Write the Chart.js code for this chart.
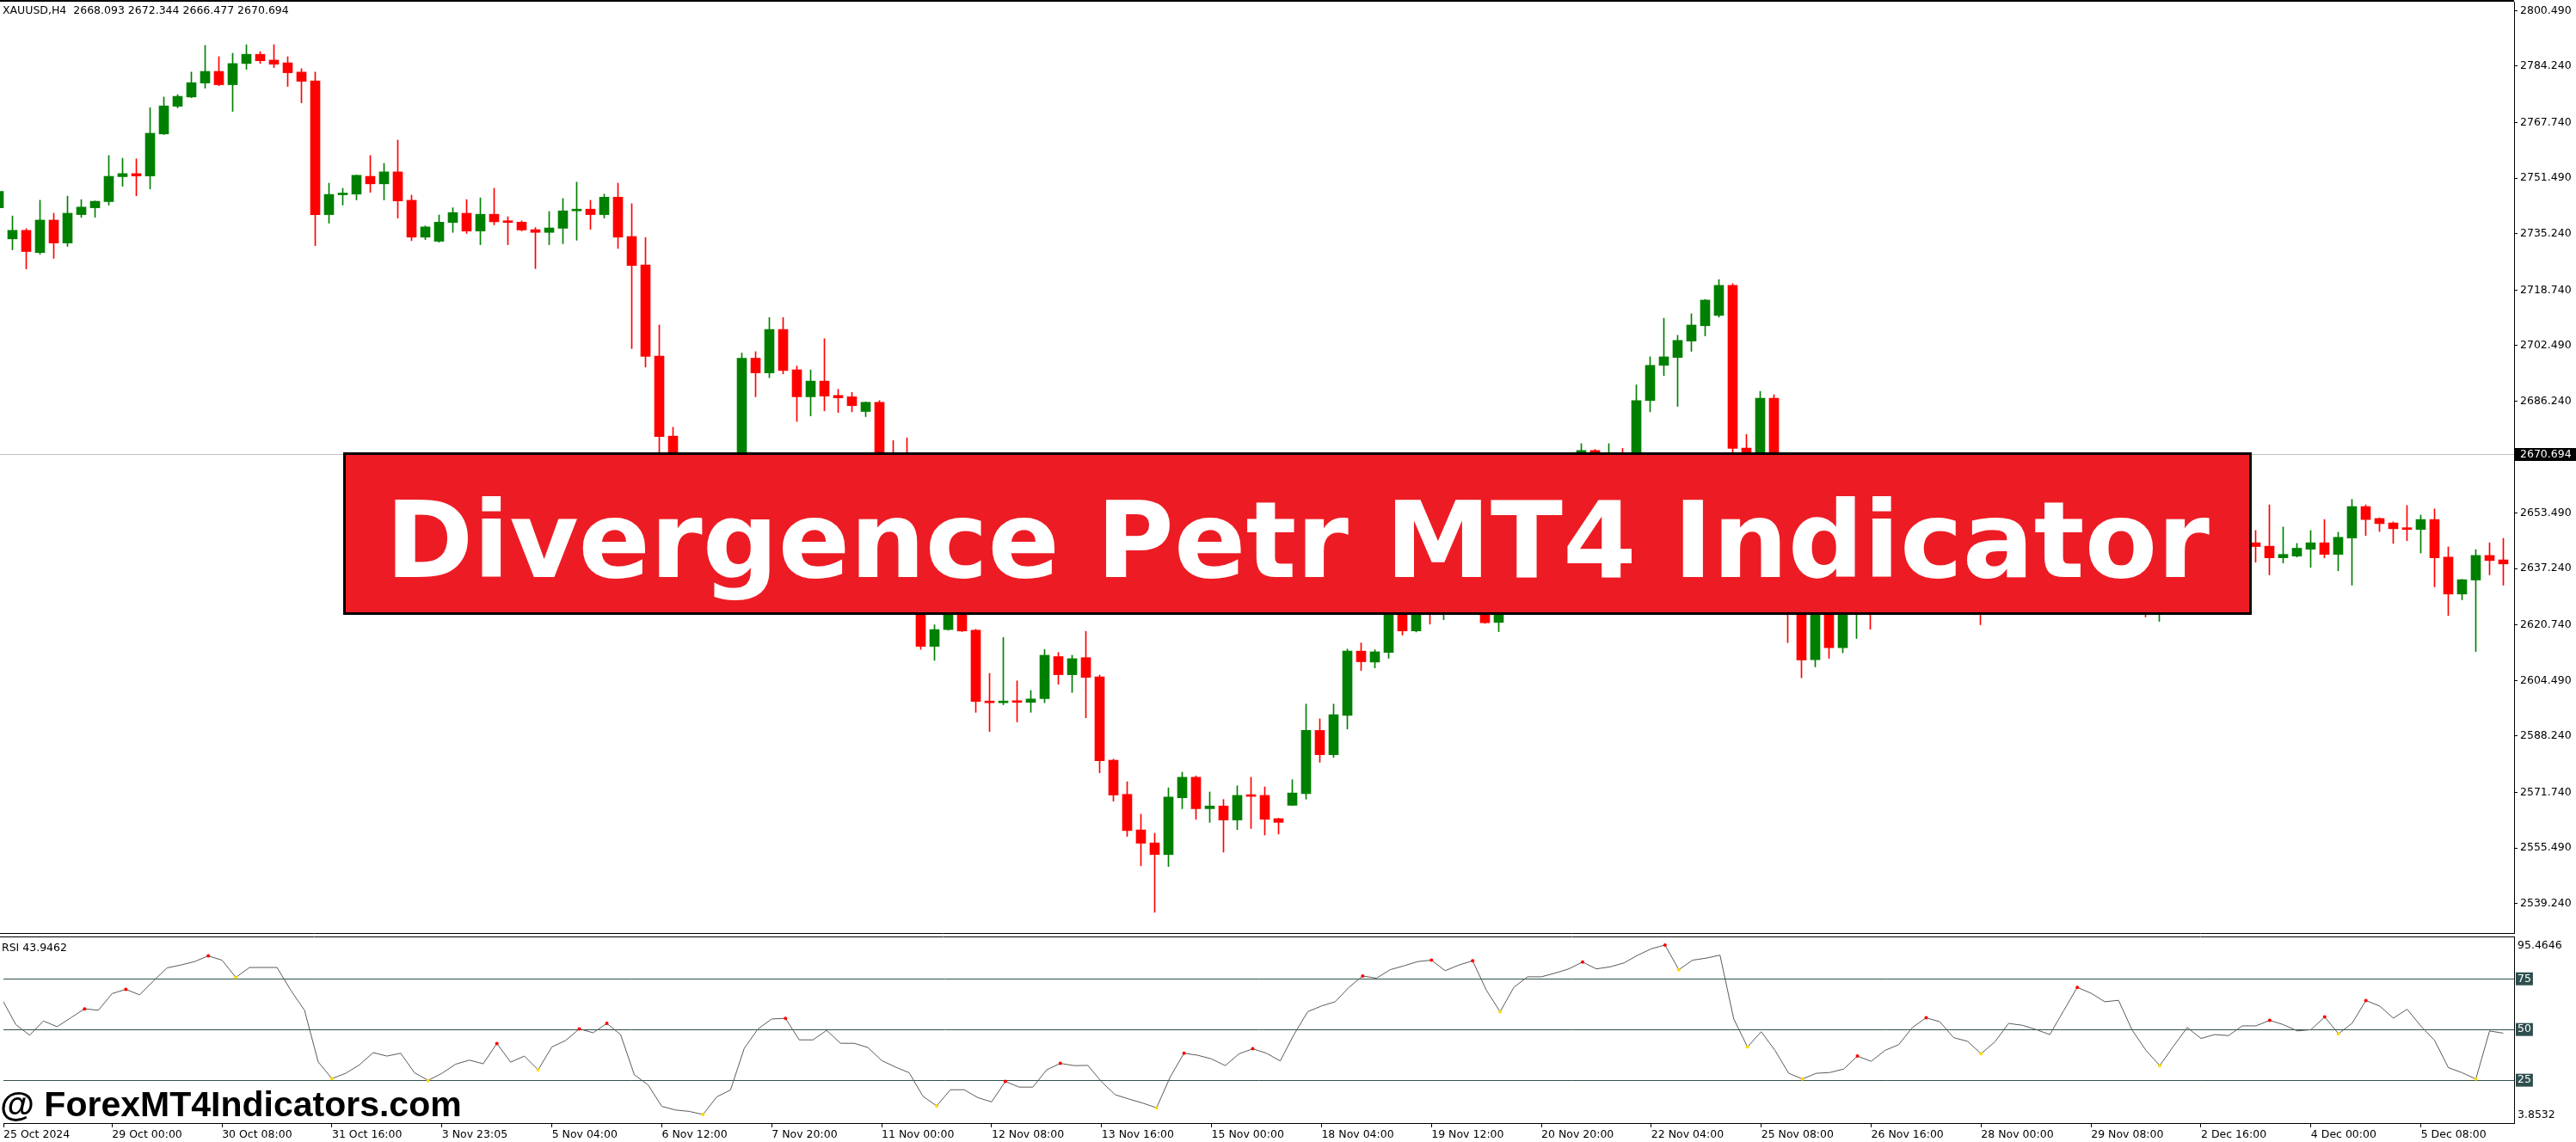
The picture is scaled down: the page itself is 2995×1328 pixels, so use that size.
<!DOCTYPE html>
<html>
<head>
<meta charset="utf-8">
<title>XAUUSD H4 - Divergence Petr</title>
<script src="https://cdn.jsdelivr.net/npm/chart.js@4.4.1/dist/chart.umd.min.js"></script>
<style>
  body { margin: 0; width: 2995px; height: 1328px; overflow: hidden; background: #fff; position: relative; }
  #main { position: absolute; left: 0; top: 0; }
  #rsi { position: absolute; left: 0; top: 1086px; }
  .head { position: absolute; left: 3px; top: 4px; font: 12.5px 'DejaVu Sans'; line-height: 15px; color: #000; white-space: pre; }
  .rsiname { position: absolute; left: 2px; top: 1094px; font: 12.5px 'DejaVu Sans'; line-height: 15px; color: #000; white-space: pre; }
  .banner { position: absolute; left: 399px; top: 526px; width: 2219px; height: 189px; box-sizing: border-box;
            background: #ED1C24; border: 3px solid #000; display: flex; align-items: center; justify-content: center; }
  .banner span { position: relative; top: 8px; color: #fff; font: bold 123px 'DejaVu Sans'; white-space: nowrap; }
  .mark { position: absolute; left: 0; top: 1264px; font: bold 41px 'Liberation Sans'; line-height: 41px; color: #000; white-space: nowrap; }
</style>
</head>
<body>
<canvas id="main" width="2995" height="1086"></canvas>
<canvas id="rsi" width="2995" height="242"></canvas>
<div class="head" id="head"></div>
<div class="rsiname" id="rsiname"></div>
<div class="banner"><span>Divergence Petr MT4 Indicator</span></div>
<div class="mark">@ ForexMT4Indicators.com</div>
<script>
// XAUUSD H4 bars, oldest first
const opens = [
  2742.8, 2733.7, 2736.2, 2729.7, 2739.2, 2732.5, 2740.8, 2742.8, 2744.6, 2751.9,
  2752.8, 2752.1, 2764.4, 2772.5, 2775.2, 2779.3, 2782.7, 2778.8, 2785.0, 2787.7,
  2786.0, 2785.2, 2782.5, 2779.9, 2740.8, 2746.6, 2746.8, 2752.0, 2749.8, 2753.3,
  2745.0, 2734.2, 2733.0, 2738.5, 2741.2, 2736.0, 2740.9, 2739.0, 2738.6, 2736.4,
  2735.6, 2736.8, 2741.9, 2742.4, 2740.8, 2745.9, 2734.4, 2726.1, 2699.4, 2676.0,
  2669.5, 2665.0, 2661.0, 2665.0, 2667.0, 2698.8, 2694.5, 2707.2, 2695.4, 2687.5,
  2692.1, 2687.9, 2687.5, 2683.2, 2685.9, 2670.0, 2662.0, 2655.0, 2614.5, 2619.4,
  2626.0, 2619.2, 2598.4, 2598.0, 2598.5, 2598.1, 2599.2, 2611.5, 2606.2, 2611.2,
  2605.6, 2581.2, 2571.2, 2560.8, 2557.0, 2553.6, 2570.2, 2576.2, 2567.0, 2567.8,
  2563.7, 2570.9, 2570.9, 2564.1, 2568.0, 2571.4, 2589.9, 2582.8, 2594.3, 2613.1,
  2609.9, 2612.7, 2629.0, 2619.0, 2636.0, 2628.0, 2632.0, 2640.0, 2645.0, 2621.5,
  2628.0, 2640.0, 2648.0, 2648.5, 2652.0, 2657.0, 2671.8, 2665.0, 2668.0, 2667.0,
  2686.4, 2696.7, 2699.0, 2703.8, 2708.3, 2711.3, 2720.1, 2672.5, 2656.0, 2687.1,
  2662.0, 2626.0, 2610.6, 2628.0, 2614.1, 2627.0, 2636.0, 2632.0, 2640.0, 2644.0,
  2652.0, 2658.0, 2656.0, 2646.0, 2643.0, 2634.0, 2641.0, 2651.0, 2650.0, 2648.0,
  2645.0, 2657.0, 2666.0, 2663.0, 2659.0, 2660.0, 2645.0, 2636.0, 2638.0, 2645.0,
  2653.0, 2648.0, 2650.0, 2649.0, 2644.8, 2643.8, 2640.4, 2640.9, 2642.9, 2644.8,
  2641.4, 2646.2, 2655.4, 2651.9, 2650.6, 2649.1, 2648.7, 2651.6, 2640.6, 2629.8,
  2633.9, 2641.1, 2639.8
];
const highs = [
  2748.5, 2740.4, 2736.7, 2745.0, 2741.2, 2746.2, 2745.2, 2744.8, 2758.1, 2757.3,
  2757.1, 2772.1, 2775.2, 2775.9, 2782.5, 2790.3, 2787.0, 2788.0, 2790.5, 2788.5,
  2790.5, 2787.0, 2783.5, 2782.5, 2750.0, 2748.5, 2752.4, 2758.1, 2755.8, 2762.6,
  2746.5, 2737.5, 2740.7, 2742.8, 2745.2, 2745.7, 2748.5, 2740.2, 2739.0, 2737.0,
  2741.7, 2745.5, 2750.3, 2745.0, 2746.8, 2750.0, 2744.0, 2734.1, 2708.5, 2678.6,
  2669.8, 2667.0, 2667.0, 2669.0, 2700.3, 2700.7, 2710.7, 2710.7, 2696.5, 2695.4,
  2704.5, 2689.7, 2688.8, 2686.0, 2686.4, 2674.7, 2675.5, 2657.0, 2620.8, 2628.0,
  2629.0, 2619.5, 2606.6, 2617.1, 2604.4, 2601.6, 2613.6, 2612.7, 2611.9, 2618.9,
  2606.1, 2581.5, 2574.9, 2565.4, 2559.8, 2573.1, 2577.7, 2576.6, 2571.9, 2569.7,
  2573.7, 2576.2, 2573.4, 2564.2, 2575.5, 2597.6, 2593.3, 2597.6, 2613.7, 2615.5,
  2613.5, 2633.0, 2634.0, 2640.0, 2642.0, 2638.0, 2644.0, 2648.0, 2647.0, 2632.0,
  2643.0, 2651.0, 2652.0, 2655.0, 2660.0, 2673.8, 2672.1, 2673.8, 2672.4, 2691.0,
  2699.2, 2710.5, 2705.5, 2711.8, 2716.0, 2721.8, 2720.6, 2676.5, 2689.1, 2688.1,
  2664.0, 2630.0, 2632.0, 2630.0, 2632.0, 2640.0, 2640.0, 2645.0, 2648.0, 2656.0,
  2662.0, 2661.0, 2659.0, 2650.0, 2646.0, 2645.0, 2655.0, 2655.0, 2653.0, 2651.0,
  2660.0, 2669.0, 2669.0, 2667.0, 2664.0, 2663.0, 2648.0, 2642.0, 2649.0, 2657.0,
  2656.0, 2654.0, 2653.0, 2652.0, 2648.4, 2655.9, 2649.4, 2644.6, 2648.4, 2651.6,
  2647.9, 2657.5, 2655.9, 2652.1, 2650.9, 2655.7, 2652.9, 2654.7, 2643.6, 2634.1,
  2642.8, 2644.8, 2646.1
];
const lows = [
  2741.5, 2730.5, 2724.9, 2729.2, 2728.0, 2731.5, 2740.0, 2740.0, 2743.6, 2749.1,
  2746.3, 2748.3, 2764.2, 2772.0, 2775.0, 2777.8, 2778.5, 2771.0, 2783.3, 2785.0,
  2783.8, 2778.3, 2773.5, 2731.7, 2738.3, 2743.6, 2745.1, 2747.3, 2745.1, 2739.8,
  2733.2, 2733.5, 2732.7, 2735.6, 2735.3, 2732.0, 2737.8, 2732.0, 2736.0, 2725.0,
  2732.0, 2732.3, 2733.3, 2736.5, 2739.8, 2730.9, 2701.6, 2696.2, 2671.0, 2666.0,
  2660.0, 2656.0, 2658.0, 2662.0, 2664.0, 2687.5, 2693.1, 2694.2, 2680.3, 2681.9,
  2683.4, 2682.9, 2683.1, 2681.7, 2668.0, 2658.0, 2652.0, 2613.6, 2610.4, 2619.2,
  2618.8, 2595.2, 2589.6, 2597.4, 2592.4, 2595.2, 2598.0, 2603.4, 2601.0, 2593.6,
  2577.5, 2569.2, 2558.9, 2550.3, 2536.7, 2550.1, 2567.0, 2563.9, 2563.0, 2554.3,
  2560.9, 2561.2, 2559.3, 2559.6, 2567.9, 2569.8, 2580.6, 2582.0, 2590.3, 2607.4,
  2608.2, 2611.0, 2617.8, 2618.7, 2621.0, 2622.3, 2630.0, 2637.0, 2621.2, 2618.8,
  2626.0, 2637.0, 2644.0, 2646.0, 2650.0, 2655.0, 2662.0, 2661.0, 2663.0, 2665.0,
  2683.1, 2693.7, 2684.7, 2700.8, 2705.3, 2710.8, 2669.0, 2650.0, 2653.0, 2658.0,
  2615.6, 2605.3, 2608.5, 2611.0, 2612.6, 2616.8, 2619.5, 2628.0, 2637.0, 2641.0,
  2649.0, 2652.0, 2642.0, 2638.0, 2620.8, 2630.0, 2638.0, 2646.0, 2644.0, 2641.0,
  2642.0, 2654.0, 2659.0, 2655.0, 2655.0, 2641.0, 2623.1, 2621.8, 2634.0, 2642.0,
  2644.0, 2645.0, 2646.0, 2644.0, 2639.1, 2635.4, 2638.9, 2640.6, 2637.6, 2640.4,
  2636.6, 2632.4, 2646.9, 2648.1, 2644.6, 2645.4, 2641.8, 2631.9, 2623.5, 2628.1,
  2613.0, 2635.4, 2632.4
];
const closes = [
  2747.6, 2736.2, 2730.0, 2739.2, 2732.5, 2741.2, 2743.0, 2744.7, 2752.0, 2752.8,
  2752.1, 2764.6, 2772.6, 2775.4, 2779.4, 2782.7, 2778.8, 2785.0, 2787.7, 2785.8,
  2784.8, 2782.3, 2779.8, 2740.8, 2746.7, 2747.0, 2752.3, 2749.8, 2753.3, 2744.8,
  2734.2, 2737.2, 2738.6, 2741.4, 2736.0, 2740.9, 2738.7, 2738.5, 2736.3, 2735.6,
  2736.9, 2741.9, 2742.3, 2740.8, 2745.9, 2734.2, 2725.9, 2699.3, 2675.9, 2669.5,
  2665.0, 2661.0, 2665.0, 2667.0, 2698.8, 2694.5, 2707.2, 2695.2, 2687.5, 2692.1,
  2687.7, 2687.2, 2684.9, 2685.9, 2670.0, 2662.0, 2655.0, 2614.5, 2619.4, 2626.0,
  2619.0, 2598.4, 2598.0, 2598.4, 2598.1, 2599.1, 2611.9, 2606.2, 2610.9, 2605.4,
  2581.0, 2571.0, 2560.6, 2556.9, 2553.6, 2570.4, 2576.2, 2567.0, 2567.8, 2563.7,
  2570.9, 2570.6, 2563.9, 2563.0, 2571.6, 2589.9, 2582.8, 2594.5, 2613.1, 2610.0,
  2612.9, 2630.0, 2619.0, 2636.0, 2628.0, 2632.0, 2640.0, 2645.0, 2621.4, 2628.0,
  2640.0, 2648.0, 2648.5, 2652.0, 2657.0, 2671.8, 2665.0, 2668.0, 2667.0, 2686.4,
  2696.7, 2699.2, 2704.0, 2708.5, 2715.8, 2720.1, 2672.4, 2655.0, 2687.1, 2662.0,
  2626.0, 2610.5, 2628.0, 2614.1, 2627.0, 2636.0, 2632.0, 2640.0, 2644.0, 2652.0,
  2658.0, 2656.0, 2646.0, 2643.0, 2634.0, 2641.0, 2651.0, 2650.0, 2648.0, 2645.0,
  2657.0, 2666.0, 2663.0, 2659.0, 2660.0, 2645.0, 2636.0, 2638.0, 2645.0, 2653.0,
  2648.0, 2650.0, 2649.0, 2645.5, 2643.7, 2640.4, 2641.4, 2643.2, 2644.8, 2641.4,
  2646.4, 2655.4, 2651.6, 2650.4, 2648.9, 2648.7, 2651.6, 2640.4, 2629.8, 2634.0,
  2641.1, 2639.6, 2638.6
];

// RSI sub window, one value per bar
const rsiValues = [
  64.8, 52.4, 47.2, 54.2, 51.4, 55.8, 60.2, 59.5, 67.7, 69.8,
  67.1, 73.9, 80.4, 81.8, 83.5, 86.3, 84.2, 75.7, 80.6, 80.6,
  80.6, 69.4, 59.5, 34.0, 25.8, 28.4, 32.6, 38.6, 36.9, 38.3,
  28.7, 24.9, 28.4, 32.9, 34.9, 33.1, 43.1, 33.9, 36.9, 30.1,
  41.4, 44.6, 50.3, 48.4, 53.0, 47.5, 27.7, 22.7, 12.1, 10.3,
  9.6, 8.1, 16.8, 20.2, 40.7, 50.3, 55.2, 55.5, 44.9, 44.9,
  49.6, 43.2, 43.2, 41.1, 34.7, 31.5, 28.7, 17.1, 12.3, 20.3,
  20.3, 16.4, 14.3, 24.4, 21.6, 21.6, 30.1, 33.3, 32.2, 32.3,
  24.2, 17.8, 15.7, 13.7, 11.4, 26.7, 38.3, 37.3, 35.5, 32.2,
  38.0, 40.5, 38.3, 34.5, 47.5, 58.8, 61.6, 63.7, 70.8, 76.4,
  75.3, 79.5, 81.4, 83.5, 84.2, 79.0, 81.8, 83.9, 69.4, 58.8,
  70.8, 76.0, 76.0, 77.8, 79.9, 83.3, 79.9, 80.9, 82.8, 86.6,
  89.8, 91.7, 79.5, 84.2, 85.2, 86.7, 55.2, 41.4, 48.9, 39.7,
  28.4, 25.6, 28.4, 28.8, 30.5, 36.9, 34.3, 39.7, 42.5, 51.0,
  55.8, 53.8, 46.0, 44.2, 38.1, 43.9, 53.0, 52.1, 50.0, 47.5,
  59.2, 70.8, 67.9, 63.7, 64.4, 49.6, 39.7, 32.2, 41.8, 51.0,
  45.6, 47.5, 47.0, 51.8, 51.8, 54.5, 52.4, 49.3, 49.9, 56.2,
  47.9, 53.1, 64.3, 61.6, 55.6, 60.0, 51.7, 44.6, 31.2, 28.7,
  25.6, 49.3, 48.2
];
// divergence markers (bar indexes) drawn on the RSI line
const peakBars = [6, 9, 15, 36, 42, 44, 57, 73, 77, 86, 91, 99, 104, 107, 115, 121, 135, 140, 151, 165, 169, 172];
const troughBars = [17, 24, 31, 39, 51, 68, 84, 109, 122, 127, 131, 144, 157, 170, 180];
const rsiLevels = [75, 50, 25];
const rsiMax = 95.4646;
const rsiMin = 3.8532;
const rsiLast = 43.9462;

// price axis
const priceTicks = [2800.490, 2784.240, 2767.740, 2751.490, 2735.240, 2718.740, 2702.490, 2686.240,
  2670.740, 2653.490, 2637.240, 2620.740, 2604.490, 2588.240, 2571.740, 2555.490, 2539.240];
const symbol = 'XAUUSD,H4';
const lastBar = [2668.093, 2672.344, 2666.477, 2670.694];   // O H L C of current bar
const lastPrice = lastBar[3];

// time axis
const dateBars = [0, 8, 16, 24, 32, 40, 48, 56, 64, 72, 80, 88, 96, 104, 112, 120, 128, 136, 144, 152, 160, 168, 176];
const dateLabels = ['25 Oct 2024', '29 Oct 00:00', '30 Oct 08:00', '31 Oct 16:00', '3 Nov 23:05', '5 Nov 04:00',
  '6 Nov 12:00', '7 Nov 20:00', '11 Nov 00:00', '12 Nov 08:00', '13 Nov 16:00', '15 Nov 00:00', '18 Nov 04:00',
  '19 Nov 12:00', '20 Nov 20:00', '22 Nov 04:00', '25 Nov 08:00', '26 Nov 16:00', '28 Nov 00:00', '29 Nov 08:00',
  '2 Dec 16:00', '4 Dec 00:00', '5 Dec 08:00'];

const xMin = 0.09375, xMax = 182.78125;
const yMin = 2530.63, yMax = 2803.08;
const axisFont = { family: 'DejaVu Sans', size: 12.5 };
const bull = '#008000', bear = '#FF0000';

document.getElementById('head').textContent = symbol + '  ' + lastBar.map(v => v.toFixed(3)).join(' ');
document.getElementById('rsiname').textContent = 'RSI ' + rsiLast.toFixed(4);

const bars = opens.map((o, i) => i);
const barColor = bars.map(i => closes[i] > opens[i] ? bull : bear);

// axes must not push the plot area in for their end labels
function noPad(scale) {
  scale.paddingTop = 0;
  scale.paddingBottom = 0;
  scale.paddingLeft = 0;
  scale.paddingRight = 0;
}

const mainFrame = {
  id: 'mainFrame',
  beforeDatasetsDraw(chart) {
    const { ctx, chartArea, scales } = chart;
    const y = Math.round(scales.y.getPixelForValue(lastPrice)) + 0.5;
    ctx.save();
    ctx.strokeStyle = '#C0C0C0';
    ctx.lineWidth = 1;
    ctx.beginPath();
    ctx.moveTo(chartArea.left, y);
    ctx.lineTo(chartArea.right, y);
    ctx.stroke();
    ctx.restore();
  },
  afterDraw(chart) {
    const { ctx, chartArea, scales } = chart;
    ctx.save();
    ctx.strokeStyle = '#000';
    ctx.lineWidth = 2;
    ctx.beginPath();
    ctx.moveTo(0, 1);
    ctx.lineTo(chartArea.right, 1);
    ctx.stroke();
    ctx.lineWidth = 1;
    ctx.beginPath();
    ctx.moveTo(0, chartArea.bottom + 0.5);
    ctx.lineTo(chartArea.right + 1, chartArea.bottom + 0.5);
    ctx.stroke();
    const y = Math.round(scales.y.getPixelForValue(lastPrice));
    ctx.fillStyle = '#000';
    ctx.fillRect(chartArea.right + 1, y - 7, 72, 15);
    ctx.fillStyle = '#fff';
    ctx.font = '12.5px "DejaVu Sans"';
    ctx.textBaseline = 'middle';
    ctx.fillText(lastPrice.toFixed(3), chartArea.right + 7, y + 0.5);
    ctx.restore();
  }
};

new Chart(document.getElementById('main'), {
  type: 'bar',
  data: {
    datasets: [
      {
        label: 'body',
        data: bars.map(i => ({ x: i, y: [opens[i], closes[i]] })),
        backgroundColor: barColor,
        barThickness: 11,
        minBarLength: 2,
        grouped: false,
        borderWidth: 0,
        order: 0
      },
      {
        label: 'wick',
        data: bars.map(i => ({ x: i, y: [lows[i], highs[i]] })),
        backgroundColor: barColor,
        barThickness: 1,
        grouped: false,
        borderWidth: 0,
        order: 1
      }
    ]
  },
  options: {
    responsive: false,
    animation: false,
    devicePixelRatio: 1,
    events: [],
    layout: { padding: { top: 2, bottom: 1, left: 0, right: 0 } },
    plugins: { legend: { display: false }, tooltip: { enabled: false } },
    scales: {
      x: { type: 'linear', min: xMin, max: xMax, offset: false, display: false },
      y: {
        position: 'right',
        min: yMin,
        max: yMax,
        afterFit: scale => { scale.width = 72; noPad(scale); },
        afterBuildTicks: scale => { scale.ticks = priceTicks.map(v => ({ value: v })); },
        ticks: { callback: v => v.toFixed(3), font: axisFont, color: '#000', padding: 3 },
        grid: { drawOnChartArea: false, drawTicks: true, tickLength: 4, color: '#000' },
        border: { display: true, color: '#000', width: 1 }
      }
    }
  },
  plugins: [mainFrame]
});

const rsiFrame = {
  id: 'rsiFrame',
  afterDraw(chart) {
    const { ctx, chartArea } = chart;
    ctx.save();
    ctx.strokeStyle = '#000';
    ctx.lineWidth = 1;
    ctx.beginPath();
    ctx.moveTo(0, chartArea.top - 0.5);
    ctx.lineTo(chartArea.right + 1, chartArea.top - 0.5);
    ctx.stroke();
    ctx.fillStyle = '#000';
    ctx.font = '12.5px "DejaVu Sans"';
    ctx.textBaseline = 'middle';
    ctx.fillText(rsiMax.toFixed(4), chartArea.right + 4, chartArea.top + 10);
    ctx.fillText(rsiMin.toFixed(4), chartArea.right + 4, chartArea.bottom - 9);
    ctx.restore();
  }
};

new Chart(document.getElementById('rsi'), {
  type: 'line',
  data: {
    datasets: [
      {
        label: 'peaks',
        data: peakBars.map(i => ({ x: i, y: rsiValues[i] })),
        showLine: false,
        pointRadius: 2,
        pointBorderWidth: 0,
        pointBackgroundColor: '#FF0000',
        order: 0
      },
      {
        label: 'troughs',
        data: troughBars.map(i => ({ x: i, y: rsiValues[i] })),
        showLine: false,
        pointRadius: 2,
        pointBorderWidth: 0,
        pointBackgroundColor: '#FFD700',
        order: 1
      },
      {
        label: 'RSI',
        data: bars.map(i => ({ x: i, y: rsiValues[i] })),
        borderColor: '#5A5A5A',
        borderWidth: 1,
        pointRadius: 0,
        tension: 0,
        order: 2
      }
    ]
  },
  options: {
    responsive: false,
    animation: false,
    devicePixelRatio: 1,
    events: [],
    layout: { padding: { top: 3, bottom: 0, left: 0, right: 0 } },
    plugins: { legend: { display: false }, tooltip: { enabled: false } },
    scales: {
      x: {
        type: 'linear',
        min: xMin,
        max: xMax,
        offset: false,
        position: 'bottom',
        afterFit: scale => { scale.height = 22; noPad(scale); },
        afterBuildTicks: scale => { scale.ticks = dateBars.map(b => ({ value: b === 0 ? xMin : b })); },
        ticks: {
          callback: (v, i) => dateLabels[i],
          align: 'start',
          maxRotation: 0,
          autoSkip: false,
          font: axisFont,
          color: '#000',
          padding: 1
        },
        grid: { drawOnChartArea: false, drawTicks: true, tickLength: 5, color: '#000' },
        border: { display: true, color: '#000', width: 1 }
      },
      y: {
        position: 'right',
        min: rsiMin,
        max: rsiMax,
        afterFit: scale => { scale.width = 72; noPad(scale); },
        afterBuildTicks: scale => { scale.ticks = rsiLevels.map(v => ({ value: v })); },
        ticks: {
          callback: v => String(v),
          font: axisFont,
          color: '#fff',
          padding: 4,
          showLabelBackdrop: true,
          backdropColor: '#2F4F4F',
          backdropPadding: { top: 0, bottom: 0, left: 2, right: 2 }
        },
        grid: { drawOnChartArea: true, drawTicks: false, color: '#2F4F4F', lineWidth: 1 },
        border: { display: true, color: '#000', width: 1 }
      }
    }
  },
  plugins: [rsiFrame]
});
</script>
</body>
</html>
